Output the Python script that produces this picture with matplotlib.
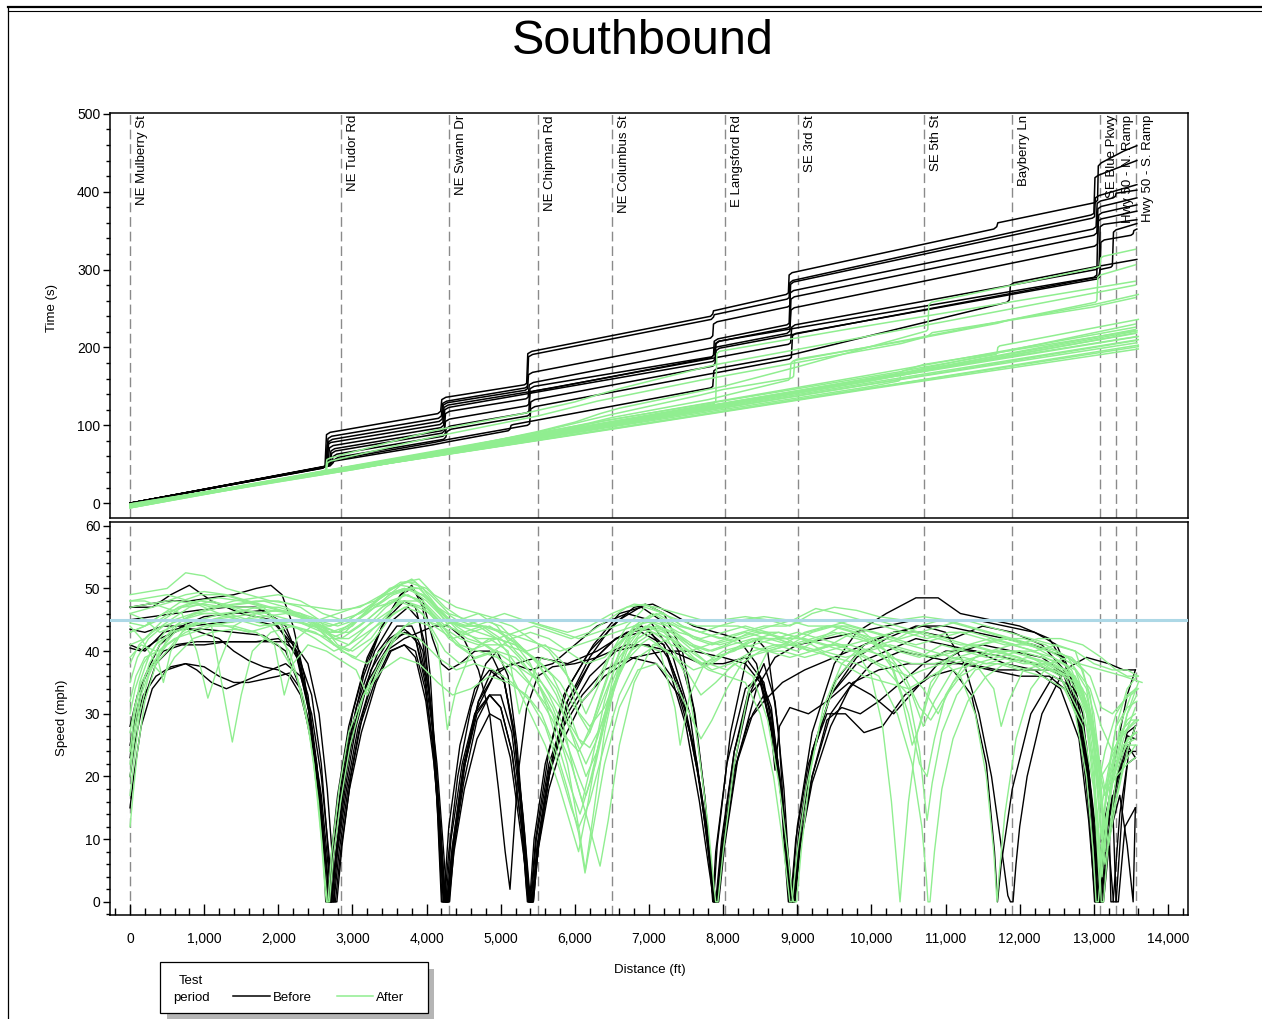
import matplotlib
matplotlib.use("Agg")
import matplotlib.pyplot as plt
import matplotlib.transforms as mtransforms
from matplotlib.ticker import MultipleLocator, FuncFormatter
from matplotlib.patches import Rectangle
from matplotlib.lines import Line2D

plt.rcParams["font.family"] = ["Liberation Sans", "DejaVu Sans"]

# ---------------------------------------------------------------- intersections
intersection_names = ["NE Mulberry St", "NE Tudor Rd", "NE Swann Dr", "NE Chipman Rd",
                      "NE Columbus St", "E Langsford Rd", "SE 3rd St", "SE 5th St",
                      "Bayberry Ln", "SE Blue Pkwy", "Hwy 50 - N. Ramp", "Hwy 50 - S. Ramp"]
intersection_ft = [0, 2846, 4303, 5504, 6502, 8025, 9010, 10709, 11897, 13084, 13300, 13570]

speed_limit_mph = 45

# ---------------------------------------------------------------- time-space, Before (distance ft, time s)
before_time_01 = [(0,0),(2590,45),(2630,48),(2650,88),(2700,91),(4150,115),(4190,118),(4205,133),(4260,136),(5320,152),(5350,154),(5365,192),(5420,195),(7830,240),(7860,243),(7870,247),(8850,268),(8880,270),(8890,293),(8930,296),(11650,352),(11690,355),(11705,360),(13020,386),(13050,389),(13060,433),(13100,437),(13400,452),(13580,459)]
before_time_02 = [(0,0),(2610,46),(2650,49),(2670,83),(2720,86),(4160,109),(4200,112),(4215,128),(4270,131),(5330,148),(5360,150),(5375,188),(5430,191),(7840,236),(7870,239),(7880,242),(8860,262),(8890,264),(8900,283),(8940,286),(12960,370),(13000,372),(13015,418),(13060,421),(13580,440)]
before_time_03 = [(0,0),(2620,46),(2660,50),(2680,79),(2730,82),(4170,105),(4210,108),(4225,126),(4280,129),(5330,145),(5360,147),(5375,165),(5430,168),(7830,212),(7860,215),(7870,230),(7920,233),(8870,252),(8900,254),(8910,281),(8950,284),(12980,366),(13010,368),(13020,392),(13070,395),(13580,409)]
before_time_04 = [(0,0),(2600,45),(2640,48),(2660,75),(2710,78),(4180,101),(4220,104),(4235,123),(4290,126),(5380,143),(5700,148),(7840,187),(7870,190),(7880,208),(7930,211),(8860,229),(8890,231),(8905,270),(8950,273),(12990,352),(13030,355),(13045,385),(13090,388),(13260,392),(13290,394),(13300,398),(13580,402)]
before_time_05 = [(0,0),(2630,47),(2670,50),(2690,71),(2740,74),(4190,97),(4230,100),(4245,120),(4300,123),(7860,182),(7890,185),(7905,205),(7950,208),(8870,225),(8900,227),(8915,262),(8960,265),(13000,344),(13040,347),(13055,378),(13100,381),(13580,392)]
before_time_06 = [(0,0),(2650,47),(2690,51),(2710,67),(2760,70),(4200,93),(4240,96),(4255,115),(4310,118),(5340,134),(5370,136),(5385,152),(5440,155),(8860,218),(8900,221),(8915,248),(8960,251),(13010,330),(13050,333),(13065,370),(13110,373),(13580,383)]
before_time_07 = [(0,0),(2660,48),(2700,52),(2720,64),(2770,67),(4210,90),(4240,93),(4255,105),(4310,108),(5350,125),(5380,127),(5395,147),(5450,150),(7850,188),(7880,191),(7895,205),(7940,208),(13000,290),(13040,293),(13055,362),(13100,365),(13580,375)]
before_time_08 = [(0,0),(2680,48),(2720,52),(2740,60),(2790,63),(4220,86),(4250,89),(4265,96),(4320,99),(5350,116),(5380,118),(5395,141),(5450,144),(8880,204),(8910,206),(8925,226),(8970,229),(13030,300),(13070,303),(13085,355),(13130,358),(13580,364)]
before_time_09 = [(0,0),(2700,48),(2740,52),(2760,56),(2810,59),(4230,82),(4260,85),(4275,92),(4330,95),(5360,112),(5390,114),(5405,130),(5460,133),(7860,176),(7890,179),(7905,196),(7950,199),(13040,290),(13070,293),(13085,300),(13230,303),(13250,305),(13265,348),(13300,351),(13580,359)]
before_time_10 = [(0,0),(2610,46),(2650,50),(2670,53),(2720,55),(4100,78),(4300,82),(5360,100),(5390,102),(5405,121),(5460,124),(8890,185),(8920,187),(8935,215),(8980,218),(13050,288),(13080,291),(13095,335),(13140,338),(13500,344),(13530,346),(13540,350),(13580,352)]
before_time_11 = [(0,0),(2640,47),(2680,50),(2700,52),(2750,54),(4087,75),(4300,79),(5100,93),(5125,95),(5140,100),(5170,101),(7830,148),(7860,150),(7875,170),(7920,173),(8900,190),(11830,258),(11860,261),(11875,280),(11920,283),(12990,303),(13580,313)]

# ---------------------------------------------------------------- time-space, After
after_time_01 = [(0,-2),(3000,44),(6500,95),(10000,147),(13600,198)]
after_time_02 = [(0,-4),(2600,41),(5500,86),(6400,103),(10000,160),(13580,214)]
after_time_03 = [(0,-5),(2800,43),(5600,89),(6400,106),(10400,169),(10700,178),(13580,222)]
after_time_04 = [(0,-3),(3000,45),(6000,93),(10000,155),(13600,210)]
after_time_05 = [(0,-6),(1500,20),(3000,43),(6000,94),(10500,166),(13580,219)]
after_time_06 = [(0,-1),(3000,45),(6200,97),(10000,158),(13600,214)]
after_time_07 = [(0,-3),(3000,44),(6500,96),(10000,148),(13600,201)]
after_time_08 = [(0,-5),(2700,43),(6300,104),(10000,165),(13560,226)]
after_time_09 = [(0,-4),(2800,43),(6500,100),(10000,153),(13580,206)]
after_time_10 = [(0,-6),(2600,41),(6200,100),(7880,128),(7900,131),(7915,192),(7950,195),(9711,224),(13560,285)]
after_time_11 = [(0,-3),(2600,41),(2640,43),(2655,56),(2700,58),(4087,93),(5400,117),(6000,130),(6300,139),(6600,147),(7900,178),(9711,210),(13560,280)]
after_time_12 = [(0,-4),(2800,43),(4300,68),(5500,92),(6000,104),(6340,115),(6600,122),(8000,150),(9000,175),(10740,221),(10760,223),(10775,255),(10810,258),(13000,302),(13080,304),(13095,315),(13130,317),(13560,326)]
after_time_13 = [(0,-2),(2900,45),(4300,69),(5500,91),(6150,106),(6500,114),(7700,139),(8000,146),(8930,161),(8950,163),(8965,183),(9000,185),(10500,209),(11700,231),(11850,235),(13000,255),(13600,268)]
after_time_14 = [(0,-3),(2900,44),(4300,67),(5500,89),(6200,103),(6500,110),(7800,133),(8880,158),(8900,160),(8915,180),(8950,183),(10500,210),(12000,238),(13020,258),(13040,260),(13055,290),(13090,293),(13560,306)]
after_time_15 = [(0,-2),(3000,44),(6500,98),(10000,150),(10370,157),(10386,159),(10400,168),(10430,170),(11680,191),(11694,193),(11705,200),(11730,202),(13600,236)]
after_time_16 = [(0,-5),(2600,40),(2650,42),(2665,52),(2700,54),(4087,85),(5500,112),(6050,125),(6300,131),(7700,158),(10400,205),(10750,214),(10820,219),(13000,252),(13080,254),(13560,264)]
after_time_17 = [(0,-4),(3000,43),(6300,98),(10000,157),(10800,172),(13560,218)]
after_time_18 = [(0,-3),(2800,42),(6400,102),(10500,168),(13580,221)]
after_time_19 = [(0,-2),(3000,44),(7000,103),(10000,148),(13600,203)]
after_time_20 = [(0,-5),(2900,44),(6100,97),(10500,169),(13560,230)]
after_time_21 = [(0,-1),(3000,45),(6500,99),(10000,153),(13580,209)]
after_time_22 = [(0,-6),(2800,42),(6100,95),(10000,159),(13560,223)]

# ---------------------------------------------------------------- speed profiles, Before (distance ft, speed mph)
before_speed_01 = [(0,47),(300,47),(550,49),(800,50.5),(1100,48),(1500,46),(1900,45),(2200,41),(2400,33),(2520,22),(2600,10),(2640,0),(2670,0),(2720,8),(2800,17),(2950,28),(3150,37),(3400,44),(3650,49),(3800,50.5),(3950,47),(4050,36),(4120,22),(4170,8),(4200,0),(4230,0),(4300,12),(4450,25),(4650,34),(4850,37),(5050,35),(5180,27),(5280,14),(5340,3),(5360,0),(5390,0),(5450,10),(5600,22),(5850,33),(6200,40),(6600,45),(6950,47.5),(7200,46),(7450,40),(7620,30),(7750,17),(7840,3),(7860,0),(7900,8),(8050,22),(8300,34),(8500,36),(8650,30),(8780,17),(8860,3),(8880,0),(8910,0),(8980,10),(9150,22),(9400,30),(9650,30),(9900,27),(10150,28),(10450,33),(10800,36),(11100,37),(11350,33),(11550,22),(11660,8),(11700,0),(11750,6),(11900,18),(12150,30),(12450,36),(12750,34),(12900,25),(13000,12),(13050,0),(13080,0),(13150,10),(13300,19),(13450,24),(13560,28)]
before_speed_02 = [(0,45),(300,45.5),(600,46),(900,46.5),(1300,47),(1700,47),(2000,45),(2250,40),(2420,30),(2550,17),(2630,5),(2660,0),(2690,0),(2750,9),(2850,19),(3000,30),(3200,39),(3450,45),(3700,48),(3850,47),(3980,41),(4080,28),(4160,12),(4210,0),(4240,0),(4300,8),(4420,20),(4600,31),(4800,38),(4950,40),(5100,36),(5220,25),(5320,10),(5370,0),(5400,0),(5470,10),(5650,24),(5900,34),(6250,41),(6600,46),(6900,47),(7150,45),(7400,40),(7600,31),(7760,16),(7850,3),(7870,0),(7920,9),(8100,27),(8300,38),(8450,42),(8600,40),(8750,27),(8840,10),(8890,0),(8920,0),(9000,12),(9200,27),(9500,38),(9800,43),(10200,46),(10600,48.5),(10900,48.5),(11200,46),(11600,45),(12000,44),(12400,42),(12700,36),(12850,25),(12950,12),(13010,0),(13040,0),(13120,12),(13200,16),(13230,0),(13260,0),(13350,14),(13450,22),(13560,23)]
before_speed_03 = [(0,41),(200,40),(450,43),(800,44),(1200,44.5),(1600,45),(2000,44),(2250,39),(2420,30),(2560,18),(2650,6),(2680,0),(2710,0),(2780,8),(2900,20),(3100,32),(3350,40),(3600,44),(3800,44),(3950,40),(4070,30),(4150,16),(4200,5),(4225,0),(4260,0),(4330,10),(4480,22),(4650,30),(4850,33),(5000,31),(5150,24),(5280,12),(5350,2),(5375,0),(5410,0),(5480,10),(5650,22),(5900,31),(6200,38),(6550,42),(6900,44),(7200,41),(7450,33),(7650,22),(7800,8),(7870,0),(7900,0),(7980,10),(8150,24),(8350,33),(8500,35),(8650,30),(8800,17),(8880,5),(8910,0),(8940,0),(9020,11),(9200,24),(9450,33),(9800,38),(10200,40),(10600,42),(11000,41),(11400,40),(11800,38),(12200,37),(12550,34),(12800,26),(12930,13),(13000,3),(13020,0),(13060,0),(13150,12),(13300,24),(13450,33),(13560,37)]
before_speed_04 = [(0,25),(80,30),(200,36),(400,41),(700,44),(1000,45.5),(1400,46),(1800,46.5),(2100,44),(2300,38),(2450,28),(2560,16),(2630,5),(2660,0),(2690,0),(2760,9),(2880,20),(3050,31),(3300,40),(3550,45),(3750,47),(3900,45),(4020,36),(4120,22),(4200,7),(4235,0),(4270,0),(4340,8),(4480,20),(4650,30),(4900,36),(5150,38),(5400,37),(5700,38),(6000,41),(6300,44),(6700,46),(7000,45),(7300,40),(7550,30),(7730,15),(7840,4),(7880,0),(7910,0),(7990,10),(8150,24),(8350,34),(8500,36),(8650,31),(8800,16),(8880,4),(8905,0),(8940,0),(9020,10),(9200,24),(9500,35),(9900,41),(10300,43),(10700,43),(11100,42),(11500,44),(11900,43),(12300,41),(12600,37),(12800,28),(12950,14),(13020,3),(13045,0),(13080,0),(13150,10),(13250,17),(13300,0),(13330,0),(13420,12),(13560,15)]
before_speed_05 = [(0,40.5),(150,40),(400,42),(700,43.5),(1000,43.5),(1400,43),(1800,42.5),(2100,40),(2300,34),(2450,25),(2570,14),(2650,5),(2690,0),(2720,0),(2790,8),(2900,18),(3050,28),(3250,37),(3500,42),(3700,43.5),(3850,42),(3980,35),(4080,25),(4170,12),(4220,3),(4245,0),(4280,0),(4350,9),(4500,22),(4700,32),(4950,37),(5200,38),(5500,39),(5900,38),(6300,40),(6700,43),(7000,43.5),(7250,39),(7500,30),(7700,18),(7830,7),(7880,1),(7905,0),(7930,0),(8000,9),(8150,22),(8350,33),(8550,38),(8700,32),(8820,18),(8890,5),(8915,0),(8950,0),(9030,10),(9200,23),(9450,33),(9800,39),(10200,42),(10600,44),(11000,44),(11400,43),(11800,42),(12200,41),(12600,39),(12850,30),(12980,15),(13040,3),(13055,0),(13090,0),(13180,12),(13350,22),(13450,26.5),(13560,26)]
before_speed_06 = [(0,20),(60,25),(180,32),(350,38),(600,41),(900,41.5),(1300,41.5),(1700,41.5),(2000,42),(2250,40),(2450,33),(2580,22),(2660,10),(2710,0),(2740,0),(2800,8),(2920,18),(3080,28),(3280,36),(3500,41),(3700,43),(3850,42),(3980,36),(4100,26),(4190,12),(4235,3),(4255,0),(4290,0),(4360,9),(4500,21),(4680,30),(4850,33),(5000,31),(5150,24),(5280,12),(5360,2),(5385,0),(5420,0),(5490,9),(5650,21),(5900,30),(6200,36),(6550,40),(6900,41),(7300,40),(7700,38),(8000,38),(8300,39),(8550,35),(8720,24),(8830,11),(8890,2),(8915,0),(8950,0),(9030,9),(9200,20),(9450,30),(9750,35),(10100,37),(10500,38),(10900,38),(11300,38),(11700,37),(12100,37),(12500,37),(12800,30),(12960,16),(13040,3),(13065,0),(13100,0),(13200,11),(13350,20),(13450,24),(13560,28)]
before_speed_07 = [(0,15),(50,20),(150,28),(300,34),(500,37),(750,38),(1000,37.5),(1200,36),(1400,35),(1600,35),(1800,35.5),(2000,36),(2150,36.5),(2300,34),(2450,27),(2580,17),(2670,6),(2720,0),(2750,0),(2820,8),(2940,18),(3100,28),(3300,35),(3500,40),(3700,41),(3850,40),(3980,34),(4100,24),(4190,11),(4235,2),(4255,0),(4290,0),(4360,8),(4500,19),(4680,29),(4850,33),(5000,33),(5150,27),(5280,14),(5370,2),(5395,0),(5430,0),(5500,9),(5650,20),(5850,28),(6100,33),(6400,37),(6750,39),(7100,38),(7400,33),(7600,25),(7750,14),(7850,4),(7895,0),(7930,0),(8010,9),(8180,22),(8400,30),(8550,33),(8650,27),(8700,21),(8760,28),(8900,31),(9150,30),(9400,32),(9700,35),(10000,33),(10300,30),(10600,34),(10900,38),(11200,40),(11500,41),(11900,40),(12300,39),(12650,36),(12850,27),(12980,13),(13040,3),(13055,0),(13090,0),(13180,12),(13350,21),(13450,25),(13560,23)]
before_speed_08 = [(0,23),(60,28),(180,33),(350,36),(550,37.5),(750,38),(900,37),(1100,35),(1300,34),(1500,35),(1700,36),(1900,37),(2100,38),(2300,36),(2450,30),(2580,20),(2680,8),(2740,0),(2770,0),(2840,8),(2960,18),(3120,27),(3320,35),(3520,40),(3700,41),(3850,39),(3990,32),(4100,22),(4200,9),(4245,2),(4265,0),(4300,0),(4370,8),(4510,18),(4680,26),(4850,30),(5000,29),(5130,23),(5270,11),(5370,2),(5395,0),(5430,0),(5500,8),(5650,18),(5850,26),(6100,32),(6400,36),(6800,39),(7200,40),(7600,40),(8000,39),(8300,38),(8500,35),(8680,26),(8800,15),(8890,4),(8925,0),(8960,0),(9040,9),(9200,19),(9450,28),(9700,34),(10000,38),(10400,40),(10800,39),(11200,38),(11600,37),(12000,36),(12400,36),(12700,33),(12880,24),(13000,12),(13070,2),(13085,0),(13120,0),(13200,10),(13300,19),(13450,27),(13560,28)]
before_speed_09 = [(0,28),(100,33),(250,37),(450,40),(700,41),(1000,41),(1300,41.5),(1600,41.5),(1900,41.5),(2200,41.5),(2400,38),(2550,30),(2660,18),(2730,7),(2760,0),(2790,0),(2860,9),(2980,20),(3140,30),(3340,38),(3550,42),(3750,43),(3900,41),(4030,34),(4140,22),(4230,8),(4275,0),(4310,0),(4380,10),(4520,22),(4700,32),(4880,37),(5030,36),(5170,28),(5300,14),(5380,3),(5405,0),(5440,0),(5510,9),(5680,22),(5900,32),(6200,38),(6550,42),(6900,43),(7200,41),(7450,33),(7650,21),(7800,9),(7905,0),(7940,0),(8020,9),(8200,23),(8450,34),(8700,39),(9000,41),(9400,42),(9800,43),(10200,44),(10600,45),(11000,45),(11400,45),(11800,44),(12200,43),(12500,41),(12750,34),(12900,24),(13020,12),(13085,0),(13110,4),(13180,12),(13230,5),(13265,0),(13300,0),(13380,14),(13470,24),(13560,24)]
before_speed_10 = [(0,47),(250,47.5),(500,48),(800,48),(1100,48.5),(1400,49),(1700,50),(1900,50.5),(2050,49),(2200,44),(2350,36),(2480,24),(2580,12),(2640,3),(2670,0),(2690,0),(2740,7),(2830,16),(2960,26),(3150,36),(3400,44),(3650,49),(3800,50),(3950,48),(4080,42),(4200,38),(4300,37),(4450,38),(4650,40),(4850,40),(5050,35),(5200,25),(5320,11),(5385,1),(5405,0),(5440,0),(5510,9),(5680,22),(5900,32),(6200,39),(6500,44),(6800,47),(7050,47.5),(7300,46),(7600,44),(7900,43),(8200,42),(8450,38),(8650,28),(8800,16),(8900,5),(8935,0),(8970,0),(9040,9),(9200,20),(9400,29),(9600,31),(9850,30),(10100,32),(10400,35),(10700,38),(11000,40),(11400,40),(11800,39),(12200,38),(12600,36),(12850,28),(12990,14),(13070,2),(13095,0),(13130,0),(13220,11),(13350,17),(13450,9),(13530,0),(13560,15)]
before_speed_11 = [(0,43.5),(200,43),(450,44),(700,44),(950,43),(1200,42),(1400,40),(1600,38.5),(1800,37.5),(2000,37),(2150,36),(2300,33),(2450,26),(2570,16),(2650,6),(2700,0),(2720,0),(2780,8),(2880,18),(3020,28),(3200,35),(3450,40),(3700,42),(3900,43),(4100,44),(4300,44),(4500,42),(4700,37),(4850,30),(4970,18),(5060,8),(5125,2),(5160,8),(5230,20),(5350,31),(5500,36),(5700,37.5),(6000,38),(6300,39),(6700,41),(7000,41),(7300,36),(7500,28),(7680,16),(7800,6),(7875,0),(7910,0),(7990,9),(8150,21),(8350,29),(8550,32),(8800,35),(9100,37),(9500,39),(9900,41),(10300,43),(10700,44),(11000,43),(11250,38),(11450,30),(11620,20),(11750,9),(11840,1),(11875,0),(11910,0),(11950,6),(12000,12),(12100,20),(12300,30),(12600,37),(12900,39),(13200,38),(13400,37),(13560,37)]

# ---------------------------------------------------------------- speed profiles, After
after_speed_01 = [(0,49),(250,49.5),(500,50),(750,52.5),(1000,52),(1300,50),(1600,49),(1900,48),(2200,47.5),(2500,47),(2800,46.5),(3100,47),(3400,49),(3700,51),(3900,51.5),(4100,49),(4400,47),(4700,46),(5000,45),(5300,45),(5600,44),(5900,43),(6200,44),(6500,46),(6800,47.5),(7100,47),(7400,46),(7700,45),(8000,45),(8300,45.5),(8600,45),(8900,44),(9200,46),(9500,47),(9800,46.5),(10100,45.5),(10400,45),(10700,45.5),(11000,45),(11300,44),(11600,43),(11900,42),(12200,41),(12500,40),(12800,38),(13100,37),(13400,36),(13650,35)]
after_speed_02 = [(0,12),(40,17),(100,24),(200,32),(350,38),(500,42),(700,45),(900,46),(1200,47),(1500,47.5),(1800,48),(2100,47),(2400,45),(2650,43),(2850,42),(3100,44),(3400,47),(3700,49),(3950,48),(4200,45),(4450,44),(4700,44),(4950,42),(5200,38),(5450,34),(5700,30),(5900,22),(6050,12),(6140,5),(6250,14),(6400,27),(6600,38),(6800,44),(7050,46),(7350,44),(7650,42),(7950,41),(8250,42),(8550,43),(8850,42),(9150,40),(9450,41),(9750,43),(10050,42),(10350,40),(10650,39),(10950,41),(11250,40),(11550,39),(11850,40),(12150,40),(12450,39),(12750,37),(12950,30),(13050,18),(13150,24),(13300,30),(13450,33),(13580,34)]
after_speed_03 = [(0,17),(50,22),(130,30),(250,36),(400,40),(600,43),(850,44),(1100,45),(1400,46),(1700,47),(2000,47),(2300,46),(2600,44),(2800,41),(3000,40),(3250,42),(3500,46),(3750,50),(3950,50),(4150,47),(4400,44),(4650,42),(4900,40),(5150,36),(5400,30),(5600,25),(5800,18),(5950,12),(6050,8),(6150,14),(6300,24),(6500,35),(6750,42),(7000,44),(7300,43),(7600,40),(7800,38),(8100,40),(8400,42),(8700,41),(9000,40),(9300,42),(9600,44),(9900,43),(10200,40),(10400,33),(10550,25),(10650,28),(10800,34),(11050,39),(11300,41),(11600,40),(11900,41),(12200,40),(12500,38),(12800,35),(13000,26),(13100,15),(13180,20),(13300,28),(13450,31),(13580,32)]
after_speed_04 = [(0,48),(200,48),(450,47),(700,46),(900,40),(1050,32.5),(1200,38),(1400,44),(1700,46),(2000,46.5),(2300,46),(2550,44),(2800,43),(3050,45),(3300,47),(3600,48),(3850,47),(4100,44),(4350,42),(4600,43),(4850,44),(5100,42),(5350,40),(5600,41),(5850,38),(6050,30),(6200,27),(6350,33),(6550,40),(6800,44),(7100,45),(7400,43),(7700,42),(8000,43),(8300,44),(8600,43),(8900,41),(9200,42),(9500,43),(9800,42),(10100,41),(10400,42),(10700,43),(11000,42),(11300,41),(11600,42),(11900,41),(12200,40),(12500,41),(12750,40),(12950,33),(13080,20),(13150,8),(13220,18),(13350,28),(13500,33),(13600,34)]
after_speed_05 = [(0,46),(200,45),(400,43),(600,44),(900,45),(1100,44),(1250,34),(1380,25.5),(1500,33),(1650,40),(1900,43),(2200,44),(2500,43),(2750,41),(3000,39),(3200,38),(3450,41),(3700,44),(3950,45),(4200,44),(4450,45),(4700,46),(4950,44),(5200,40),(5450,37),(5650,33),(5850,28),(6000,20),(6100,16),(6220,22),(6400,32),(6600,40),(6850,44),(7100,46),(7400,44),(7700,43),(8000,42),(8300,41),(8600,40),(8900,41),(9200,43),(9500,44),(9800,43),(10100,41),(10400,38),(10700,34),(10900,30),(11100,35),(11400,39),(11700,40),(12000,39),(12300,37),(12600,35),(12900,28),(13050,14),(13110,4),(13180,14),(13300,22),(13450,25),(13580,25)]
after_speed_06 = [(0,44.5),(200,44),(400,45),(650,47),(900,48),(1200,48.5),(1500,48),(1800,47),(2050,44),(2150,38),(2250,42),(2450,44),(2700,43),(2950,44),(3200,46),(3500,49),(3750,50),(4000,48),(4250,45),(4500,44),(4750,45),(5000,44),(5250,41),(5500,38),(5750,34),(5950,28),(6100,25),(6250,29),(6450,36),(6700,42),(6950,45),(7250,44),(7550,41),(7850,39),(8150,40),(8450,42),(8750,43),(9050,42),(9350,40),(9650,39),(9950,40),(10250,41),(10550,40),(10850,39),(11150,40),(11450,41),(11750,42),(12050,42),(12350,41),(12650,39),(12900,34),(13050,24),(13120,12),(13200,20),(13350,27),(13500,29),(13600,29)]
after_speed_07 = [(0,30),(70,34),(180,38),(350,41),(550,43),(800,44),(1100,45),(1400,45.5),(1700,46),(2000,46.5),(2300,46),(2550,45),(2800,46),(3050,47),(3300,48),(3550,50),(3800,51.5),(4050,49),(4300,46),(4550,45),(4800,45),(5050,46),(5300,45),(5550,44),(5800,43),(6050,42),(6300,43),(6550,44),(6800,45),(7050,44.5),(7300,43),(7550,41),(7800,40),(8050,41),(8350,43),(8650,44),(8950,45),(9250,46.8),(9550,46),(9850,45),(10150,44),(10450,43),(10750,42),(11050,43),(11350,43),(11650,42),(11950,41),(12250,42),(12550,42),(12850,41),(13100,39),(13300,37),(13450,36),(13600,36)]
after_speed_08 = [(0,27),(60,31),(150,35),(300,38),(450,36),(600,39),(850,42),(1100,43),(1400,43.5),(1700,43),(1950,41),(2080,33),(2200,38),(2400,41),(2650,40),(2850,38.5),(3050,37),(3200,33),(3350,37),(3550,42),(3800,45),(4050,44),(4250,40),(4450,38),(4700,39),(4950,40),(5200,39),(5450,36),(5700,31),(5900,25),(6050,20),(6150,17),(6280,22),(6450,31),(6650,38),(6900,41),(7150,40),(7350,31),(7420,25),(7550,33),(7750,38),(8000,40),(8300,41),(8600,40),(8900,39),(9200,40),(9500,41),(9800,40),(10100,38),(10300,37),(10500,36),(10700,37),(10950,38),(11250,39),(11550,38),(11850,39),(12150,38),(12450,37),(12750,35),(12950,29),(13050,22),(13150,17),(13300,20),(13450,22),(13560,23)]
after_speed_09 = [(0,22),(50,27),(130,33),(260,38),(400,41),(600,44),(850,46),(1100,47),(1400,48),(1700,48.5),(2000,49),(2300,48),(2600,46),(2850,45),(3100,46),(3400,48),(3650,50.5),(3900,50),(4150,47),(4400,45),(4650,44),(4900,45),(5150,44),(5400,42),(5650,40),(5900,36),(6100,32),(6250,34),(6450,39),(6700,44),(6950,47),(7200,46),(7450,44),(7700,43),(7950,42),(8250,43),(8550,44),(8850,44),(9150,45),(9450,45),(9750,44),(10050,43),(10350,42),(10650,44),(10950,45),(11250,44),(11550,43),(11850,42),(12150,41),(12450,39),(12700,37),(12900,31),(13030,20),(13100,10),(13170,18),(13300,28),(13450,34),(13580,36)]
after_speed_10 = [(0,39),(150,41),(350,40),(450,35),(550,40),(750,44),(1000,45),(1300,44),(1600,43),(1900,44),(2200,45),(2500,44),(2750,42),(2950,41),(3200,43),(3450,45),(3700,47),(3950,46),(4150,41),(4280,27.5),(4400,34),(4600,40),(4850,42),(5100,40),(5250,30),(5350,34),(5550,39),(5800,38),(6000,34),(6150,30),(6300,34),(6500,40),(6750,43),(7000,44),(7250,42),(7500,36),(7650,26),(7800,12),(7880,2),(7900,0),(7930,0),(8000,8),(8150,22),(8350,34),(8600,40),(8800,40),(9100,39),(9400,40),(9700,41),(10000,40),(10300,38),(10550,33),(10700,28),(10850,32),(11100,37),(11400,38),(11700,39),(12000,40),(12300,38),(12600,36),(12850,31),(13000,22),(13080,6),(13150,15),(13300,25),(13450,29),(13560,30)]
after_speed_11 = [(0,35),(100,39),(250,42),(450,44),(700,45),(1000,46),(1300,46),(1600,45),(1900,44),(2150,40),(2350,32),(2480,22),(2580,10),(2630,2),(2650,0),(2670,0),(2720,8),(2820,18),(2950,27),(3150,33),(3400,37),(3650,39),(3900,38),(4150,35),(4350,33),(4600,34),(4850,36),(5100,35),(5350,33),(5550,30),(5750,24),(5900,18),(6050,11),(6137,4.6),(6250,12),(6400,22),(6600,31),(6850,37),(7100,38),(7350,35),(7550,30),(7700,26),(7850,29),(8050,34),(8250,38),(8500,40),(8800,41),(9100,43),(9400,44),(9700,44),(10000,43),(10300,42),(10600,41),(10900,42),(11200,43),(11500,42),(11800,41),(12100,41),(12400,40),(12700,38),(12950,34),(13100,28),(13250,24),(13400,27),(13560,29)]
after_speed_12 = [(0,20),(60,26),(150,33),(300,38),(500,41),(750,43),(1000,44),(1300,44.5),(1600,45),(1900,45),(2200,44),(2500,42),(2750,40),(2950,41),(3200,44),(3450,47),(3700,49),(3950,48),(4200,44),(4450,41),(4700,40),(4950,39),(5200,37),(5450,34),(5700,29),(5950,22),(6150,14),(6340,5.7),(6450,13),(6600,25),(6800,35),(7050,41),(7300,42),(7550,40),(7800,38),(8050,37),(8300,39),(8600,40),(8900,41),(9200,40),(9500,39),(9800,38),(10100,36),(10350,30),(10550,22),(10680,12),(10740,4),(10763,0),(10790,0),(10850,8),(10950,18),(11100,26),(11300,32),(11550,36),(11800,38),(12100,39),(12400,38),(12700,36),(12900,30),(13000,20),(13070,8),(13100,0),(13130,0),(13200,10),(13300,20),(13450,26),(13580,27)]
after_speed_13 = [(0,41),(200,42),(450,45),(700,47),(950,48),(1250,47.5),(1550,46),(1850,45),(2150,44),(2450,43),(2700,42),(2900,43),(3150,46),(3400,49),(3650,51),(3850,51),(4050,48),(4300,44),(4550,42),(4800,41),(5050,39),(5300,37),(5550,35),(5800,31),(6000,26),(6150,22),(6300,26),(6500,34),(6750,40),(7000,42),(7250,40),(7500,37),(7700,33),(7900,35),(8150,38),(8400,36),(8600,29),(8750,19),(8870,8),(8930,1),(8950,0),(8990,0),(9060,9),(9180,21),(9350,31),(9600,38),(9900,41),(10200,42),(10500,41),(10800,40),(11100,39),(11400,38),(11650,34),(11750,28),(11850,32),(12050,37),(12350,38),(12650,36),(12900,31),(13050,22),(13150,17),(13300,22),(13450,30),(13600,35)]
after_speed_14 = [(0,43),(200,44),(450,46),(700,48),(950,49),(1250,49),(1550,48),(1850,47),(2150,46),(2450,45),(2700,44),(2950,45),(3200,47),(3450,49),(3700,50),(3950,49),(4200,46),(4450,44),(4700,43),(4950,42),(5200,41),(5450,39),(5700,36),(5900,31),(6050,26),(6200,24.6),(6350,28),(6550,35),(6800,41),(7050,43),(7300,42),(7550,39),(7800,37),(8050,36),(8300,35),(8500,30),(8680,20),(8800,10),(8880,2),(8900,0),(8930,0),(9000,8),(9120,18),(9300,28),(9550,36),(9850,40),(10150,41),(10450,40),(10750,39),(11050,40),(11350,41),(11650,40),(11950,39),(12250,38),(12550,36),(12750,30),(12900,20),(12990,8),(13030,0),(13060,0),(13130,9),(13250,19),(13400,26),(13560,31)]
after_speed_15 = [(0,47),(250,47.5),(500,48),(750,49),(1000,49.5),(1300,49),(1600,48),(1900,47),(2200,46),(2500,45),(2800,44),(3050,45),(3300,47),(3550,49),(3800,50),(4050,48),(4300,45),(4550,44),(4800,44),(5050,43),(5300,42),(5550,41),(5800,40),(6050,41),(6300,42),(6550,43),(6800,44),(7050,43),(7300,41),(7550,40),(7800,41),(8050,42),(8300,43),(8600,42),(8900,41),(9200,40),(9500,41),(9800,40),(10000,36),(10150,28),(10270,16),(10350,5),(10386,0),(10420,5),(10500,16),(10620,27),(10800,35),(11000,38),(11200,36),(11400,30),(11550,20),(11650,8),(11694,0),(11720,4),(11800,14),(11950,26),(12150,34),(12400,38),(12650,39),(12850,37),(13000,30),(13100,20),(13200,22),(13350,26),(13500,28),(13600,29)]
after_speed_16 = [(0,32),(80,36),(200,39),(380,40),(600,42),(850,43),(1100,44),(1400,44),(1700,43),(2000,41),(2250,36),(2420,27),(2540,16),(2620,5),(2660,0),(2690,0),(2740,7),(2840,16),(2970,25),(3150,33),(3400,39),(3650,43),(3900,42),(4150,39),(4400,37),(4650,38),(4900,37),(5150,35),(5400,32),(5600,28),(5800,21),(5950,15),(6050,11.8),(6200,16),(6400,25),(6600,33),(6850,39),(7100,41),(7350,39),(7600,37),(7850,38),(8100,40),(8400,41),(8700,42),(9000,43),(9300,42),(9600,41),(9900,39),(10200,37),(10500,33),(10650,24),(10750,13),(10820,19),(10950,27),(11150,33),(11400,37),(11700,38),(12000,37),(12300,36),(12600,34),(12850,28),(13000,18),(13080,2),(13120,10),(13250,20),(13400,25),(13560,26)]
after_speed_17 = [(0,46),(300,47),(600,48),(900,47.5),(1200,46),(1500,45),(1800,45.5),(2100,46),(2400,45),(2700,43),(2950,43),(3200,45),(3500,48),(3750,49),(4000,47),(4250,44),(4500,43),(4750,44),(5000,43),(5250,41),(5500,38),(5750,33),(5950,27),(6150,20),(6300,24),(6500,33),(6700,40),(6950,44),(7200,43),(7450,40),(7700,38),(7950,39),(8250,41),(8550,42),(8850,42),(9150,43),(9450,44),(9750,43),(10050,41),(10300,37),(10500,30),(10650,22),(10750,20),(10850,26),(11000,33),(11250,38),(11550,40),(11850,40),(12150,39),(12450,38),(12750,36),(12950,30),(13080,18),(13150,12),(13250,19),(13400,25),(13560,27)]
after_speed_18 = [(0,38),(120,41),(300,43),(550,45),(800,47),(1100,48),(1400,47),(1700,46),(2000,45),(2300,44.5),(2600,43),(2850,40),(3050,39),(3300,42),(3550,46),(3800,47.5),(4050,46),(4300,42),(4550,40),(4800,41),(5050,41),(5300,40),(5550,38),(5800,35),(6000,31),(6200,28),(6400,31),(6600,37),(6850,42),(7100,44),(7350,43),(7600,41),(7850,40),(8100,41),(8400,42),(8700,42),(9000,41),(9300,42),(9600,43),(9900,42),(10200,40),(10450,36),(10650,31),(10800,29),(10950,32),(11200,36),(11500,38),(11800,38),(12100,37),(12400,37),(12700,36),(12900,32),(13050,24),(13150,18),(13300,23),(13450,30),(13580,33)]
after_speed_19 = [(0,48),(250,48.5),(500,49),(800,48),(1100,47),(1400,47.5),(1700,48),(2000,48),(2300,47),(2550,45),(2750,42),(2950,42),(3200,44),(3450,46),(3700,48),(3950,47),(4200,44),(4450,42),(4700,41),(4950,42),(5200,43),(5450,44),(5700,43),(5950,42),(6200,43),(6450,45),(6700,47),(6950,47.5),(7200,46),(7450,44),(7700,43),(7950,44),(8250,45),(8550,45.5),(8850,45),(9150,44),(9450,44),(9750,45),(10050,45),(10350,44),(10650,43),(10950,44),(11250,45),(11550,44),(11850,43),(12150,42),(12450,41),(12750,40),(13000,38),(13250,37),(13450,37),(13600,36)]
after_speed_20 = [(0,44),(150,42),(350,38),(500,40),(700,43),(950,45),(1250,46),(1550,46.5),(1850,46),(2150,45),(2450,44),(2700,44),(2950,45),(3200,47),(3450,49),(3700,50),(3950,49),(4200,46),(4450,43),(4700,42),(4950,42),(5200,41),(5400,38),(5600,32),(5800,24),(5950,18),(6070,14),(6200,19),(6400,29),(6600,37),(6850,42),(7100,44),(7350,42),(7600,39),(7850,37),(8100,38),(8400,40),(8700,41),(9000,41),(9300,40),(9600,38),(9900,36),(10200,35),(10500,34),(10800,36),(11100,38),(11400,39),(11700,40),(12000,40),(12300,39),(12600,38),(12850,34),(13000,26),(13100,12),(13150,6),(13250,14),(13400,22),(13560,25)]
after_speed_21 = [(0,43),(200,44),(450,46),(700,47),(1000,47.5),(1300,47),(1600,47),(1900,46.5),(2200,46),(2500,44),(2750,41),(2950,40),(3150,42),(3400,45),(3650,48),(3900,48),(4150,45),(4400,41),(4650,39),(4900,40),(5150,42),(5400,43),(5650,42),(5900,40),(6150,38),(6400,39),(6650,42),(6900,45),(7150,46),(7400,45),(7650,44),(7900,44),(8200,44),(8500,43),(8800,42),(9100,42),(9400,41),(9700,41),(10000,42),(10300,43),(10600,43),(10900,42),(11200,41),(11500,41),(11800,42),(12100,41),(12400,40),(12700,39),(12950,36),(13100,31),(13250,30),(13400,32),(13560,34)]
after_speed_22 = [(0,24),(50,29),(130,35),(250,39),(400,42),(600,45),(850,46),(1150,46),(1450,45),(1750,44),(2050,44.5),(2350,45),(2600,44),(2800,43),(3000,44),(3250,47),(3500,50),(3750,51),(4000,50),(4250,47),(4500,45),(4750,44),(5000,42),(5250,39),(5500,35),(5700,30),(5900,26),(6050,24),(6200,27),(6400,33),(6600,39),(6850,43),(7100,45),(7350,44),(7600,42),(7850,41),(8150,42),(8450,43),(8750,43),(9050,42),(9350,41),(9650,40),(9950,40),(10250,39),(10550,38),(10850,38),(11150,39),(11450,40),(11750,39),(12050,38),(12350,38),(12650,37),(12900,33),(13050,25),(13130,14),(13200,9),(13300,16),(13450,24),(13560,28)]

before_time = [before_time_01, before_time_02, before_time_03, before_time_04, before_time_05, before_time_06,
               before_time_07, before_time_08, before_time_09, before_time_10, before_time_11]
after_time = [after_time_01, after_time_02, after_time_03, after_time_04, after_time_05, after_time_06,
              after_time_07, after_time_08, after_time_09, after_time_10, after_time_11, after_time_12,
              after_time_13, after_time_14, after_time_15, after_time_16, after_time_17, after_time_18,
              after_time_19, after_time_20, after_time_21, after_time_22]
before_speed = [before_speed_01, before_speed_02, before_speed_03, before_speed_04, before_speed_05, before_speed_06,
                before_speed_07, before_speed_08, before_speed_09, before_speed_10, before_speed_11]
after_speed = [after_speed_01, after_speed_02, after_speed_03, after_speed_04, after_speed_05, after_speed_06,
               after_speed_07, after_speed_08, after_speed_09, after_speed_10, after_speed_11, after_speed_12,
               after_speed_13, after_speed_14, after_speed_15, after_speed_16, after_speed_17, after_speed_18,
               after_speed_19, after_speed_20, after_speed_21, after_speed_22]

BEFORE_COLOR = "#000000"
AFTER_COLOR = "#90EE90"
GRID_COLOR = "#8a8a8a"
LIMIT_COLOR = "#ADD8E6"

# ---------------------------------------------------------------- figure
W, H = 1262, 1019
fig = plt.figure(figsize=(W / 100, H / 100), dpi=100)


def fx(px):
    return px / W


def fy(py):
    return 1 - py / H


ax_t = fig.add_axes([fx(110), fy(518), (1188 - 110) / W, (518 - 113) / H])
ax_v = fig.add_axes([fx(110), fy(915), (1188 - 110) / W, (915 - 522) / H])

XLIM = (-270, 14270)
for ax in (ax_t, ax_v):
    ax.set_xlim(*XLIM)
    for s in ax.spines.values():
        s.set_linewidth(1.1)
    for d in intersection_ft:
        ax.axvline(d, color=GRID_COLOR, lw=1.0, ls=(0, (7, 3.5)), zorder=1)

ax_t.set_ylim(-19, 501)
ax_v.set_ylim(-2.1, 60.6)

# time-space trajectories
for tr in before_time:
    ax_t.plot([p[0] for p in tr], [p[1] for p in tr], color=BEFORE_COLOR, lw=1.1, zorder=3)
for tr in after_time:
    ax_t.plot([p[0] for p in tr], [p[1] for p in tr], color=AFTER_COLOR, lw=1.1, zorder=3)

# speed profiles
for sp in before_speed:
    ax_v.plot([p[0] for p in sp], [p[1] for p in sp], color=BEFORE_COLOR, lw=1.0, zorder=3)
for sp in after_speed:
    ax_v.plot([p[0] for p in sp], [p[1] for p in sp], color=AFTER_COLOR, lw=1.0, zorder=3)

ax_v.axhline(speed_limit_mph, color=LIMIT_COLOR, lw=2.2, zorder=4)

# intersection names along the top of the time panel
lab_tr = mtransforms.offset_copy(ax_t.get_xaxis_transform(), fig=fig, x=4, y=0, units="points")
for name, d in zip(intersection_names, intersection_ft):
    ax_t.text(d, 0.995, name, rotation=90, ha="left", va="top", fontsize=9.5,
              transform=lab_tr, zorder=5)

# ticks
ax_t.yaxis.set_major_locator(MultipleLocator(100))
ax_t.yaxis.set_minor_locator(MultipleLocator(20))
ax_t.set_xticks([])
ax_v.yaxis.set_major_locator(MultipleLocator(10))
ax_v.yaxis.set_minor_locator(MultipleLocator(2))
for ax in (ax_t, ax_v):
    ax.tick_params(axis="y", which="major", direction="out", length=5, width=1.0,
                   labelsize=10, pad=2)
    ax.tick_params(axis="y", which="minor", direction="out", length=3, width=1.0)

ax_v.xaxis.set_major_locator(MultipleLocator(1000))
ax_v.xaxis.set_minor_locator(MultipleLocator(200))
ax_v.xaxis.set_major_formatter(FuncFormatter(lambda v, p: f"{int(round(v)):,}"))
ax_v.tick_params(axis="x", which="major", direction="in", length=8, width=1.0,
                 labelsize=10, pad=12)
ax_v.tick_params(axis="x", which="minor", direction="in", length=5, width=1.0)

# axis titles
fig.text(fx(52), fy(308), "Time (s)", rotation=90, ha="center", va="center", fontsize=9.5)
fig.text(fx(62), fy(718), "Speed (mph)", rotation=90, ha="center", va="center", fontsize=9.5)
fig.text(fx(650), fy(970), "Distance (ft)", ha="center", va="center", fontsize=9.5)

# title
fig.text(fx(643), fy(54), "Southbound", ha="center", va="baseline", fontsize=35)

# page frame
fig.add_artist(Line2D([fx(8), 1.0], [fy(7), fy(7)], color="black", lw=1.6))
fig.add_artist(Line2D([fx(8), 1.0], [fy(10.5), fy(10.5)], color="black", lw=0.8))
fig.add_artist(Line2D([fx(8), fx(8)], [fy(7), 0.0], color="black", lw=0.9))

# legend
fig.add_artist(Rectangle((fx(167), fy(1019)), (434 - 167) / W, (1019 - 969) / H,
                         facecolor="#b5b5b5", edgecolor="none", zorder=1))
fig.add_artist(Rectangle((fx(160), fy(1013)), (428 - 160) / W, (1013 - 962) / H,
                         facecolor="white", edgecolor="black", lw=0.9, zorder=2))
fig.text(fx(191), fy(981), "Test", ha="center", va="center", fontsize=9.5, zorder=3)
fig.text(fx(191), fy(998), "period", ha="center", va="center", fontsize=9.5, zorder=3)
fig.add_artist(Line2D([fx(233), fx(270)], [fy(996), fy(996)], color=BEFORE_COLOR, lw=1.1, zorder=3))
fig.text(fx(273), fy(998), "Before", ha="left", va="center", fontsize=9.5, zorder=3)
fig.add_artist(Line2D([fx(337), fx(373)], [fy(996), fy(996)], color=AFTER_COLOR, lw=1.1, zorder=3))
fig.text(fx(376), fy(998), "After", ha="left", va="center", fontsize=9.5, zorder=3)

fig.savefig("out.png", dpi=100)
